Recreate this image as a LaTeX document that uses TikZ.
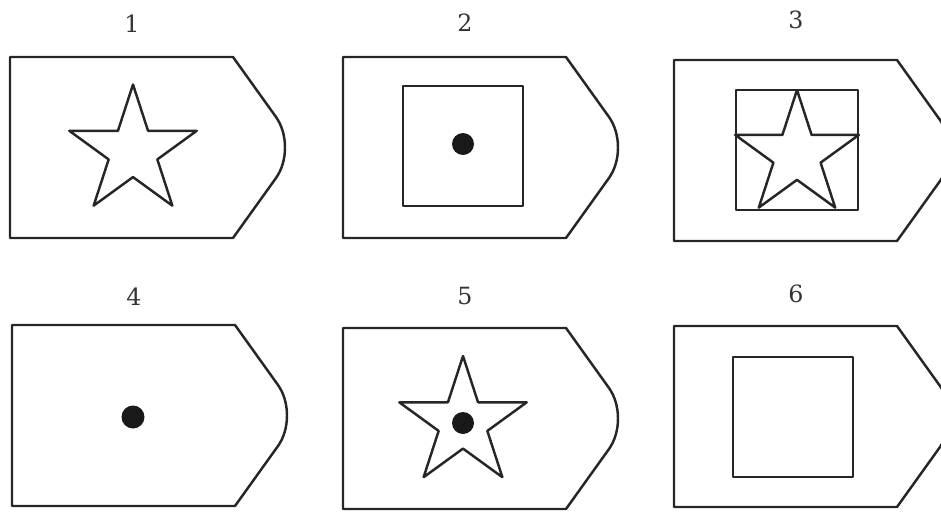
\documentclass[tikz,border=0pt]{standalone}
\usepackage{fontspec}
\newfontfamily\numfont{DejaVu Serif}
\begin{document}
\begin{tikzpicture}[x=0.02cm, y=0.02cm,
  outline/.style={line width=1.4pt, black!85, line join=round},
  num/.style={font=\numfont\fontsize{13.5}{16}\selectfont, text=black!80},
  dot/.style={fill=black!90}]
\useasboundingbox (0,0) rectangle (941,512);
\clip (0,0) rectangle (941,512);
% badges and their numbers
\foreach \n/\bx/\by/\ly in {1/10/455/33, 2/343/455/34, 3/674/452/40, 4/12/187/28, 5/343/184/32, 6/674/186/32}{
  \begin{scope}[shift={(\bx,\by)}]
    \draw[outline] (0,0) -- (223,0) -- (266,-60) .. controls (278,-77) and (278,-104) .. (266,-121) -- (223,-181) -- (0,-181) -- cycle;
    \node[num] (lab\n) at (122,\ly) {\n};
  \end{scope}
}
% squares
\draw[outline] (403,426) rectangle (523,306);
\draw[outline] (736,422) rectangle (858,302);
\draw[outline] (733,155) rectangle (853,35);
% stars
\foreach \cx/\cy/\R in {133/360.5/67, 797/357/65, 463/89/67}{
  \draw[outline, shift={(\cx,\cy)}] (90:\R) \foreach \a in {90,162,234,306}{ -- ({\a+36}:{0.382*\R}) -- ({\a+72}:\R)} -- (54:{0.382*\R}) -- cycle;
}
% dots
\fill[dot] (463,368) circle (11);
\fill[dot] (133,95) circle (11.5);
\fill[dot] (463,89) circle (11);
\end{tikzpicture}
\end{document}
